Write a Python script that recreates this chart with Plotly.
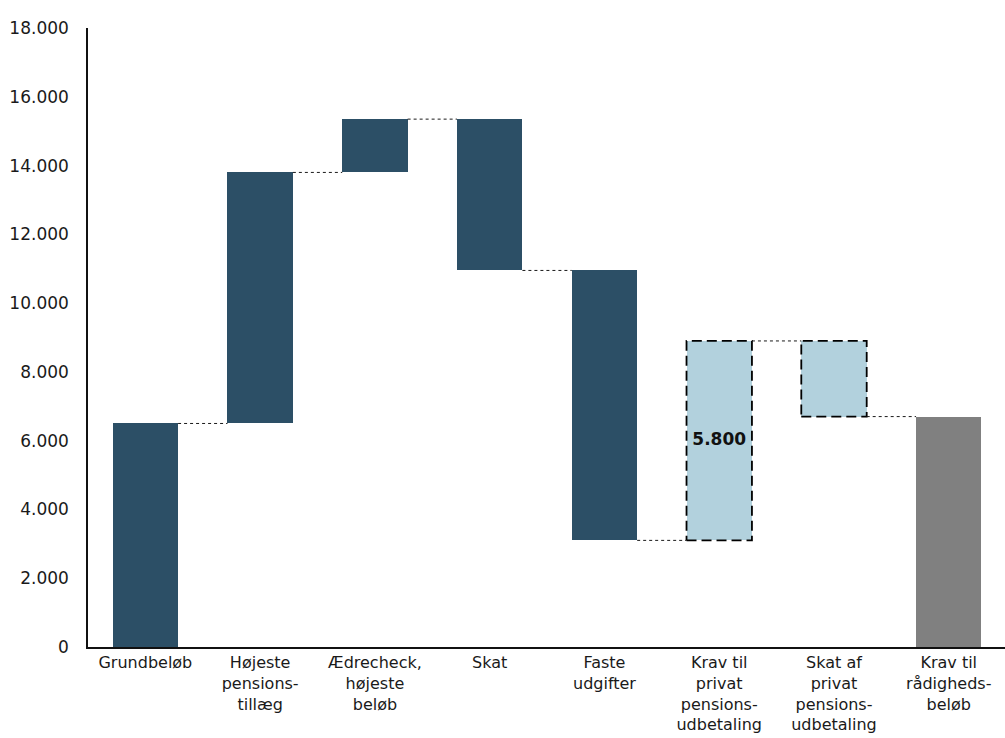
import plotly.graph_objects as go

# Monthly budget steps (DKK)
categories = [
    "Grundbeløb",
    "Højeste<br>pensions-<br>tillæg",
    "Ædrecheck,<br>højeste<br>beløb",
    "Skat",
    "Faste<br>udgifter",
    "Krav til<br>privat<br>pensions-<br>udbetaling",
    "Skat af<br>privat<br>pensions-<br>udbetaling",
    "Krav til<br>rådigheds-<br>beløb",
]
deltas = [6500, 7300, 1550, -4400, -7850, 5800, -2200, 6700]
kinds = ["step", "step", "step", "step", "step", "pension", "pension", "total"]
y_ticks = [0, 2000, 4000, 6000, 8000, 10000, 12000, 14000, 16000, 18000]

DARK = "#2C4F66"
LIGHT = "#B2D1DD"
GREY = "#808080"
FONT = "DejaVu Sans"

x = list(range(len(categories)))
bar_w = 0.57

# running levels: base and top of each floating bar
bases, tops, levels = [], [], []
level = 0
for d, k in zip(deltas, kinds):
    if k == "total":
        bases.append(0)
        tops.append(d)
        level = d
    else:
        lo, hi = sorted([level, level + d])
        bases.append(lo)
        tops.append(hi)
        level += d
    levels.append(level)

colors = [DARK if k == "step" else LIGHT if k == "pension" else GREY for k in kinds]

fig = go.Figure()
fig.add_trace(go.Bar(
    x=x,
    y=[t - b for t, b in zip(tops, bases)],
    base=bases,
    width=bar_w,
    marker=dict(color=colors, line=dict(width=0)),
    hoverinfo="skip",
))

# dashed outlines of the private pension bars
for i, k in enumerate(kinds):
    if k == "pension":
        x0, x1 = i - bar_w / 2, i + bar_w / 2
        fig.add_trace(go.Scatter(
            x=[x0, x1, x1, x0, x0],
            y=[bases[i], bases[i], tops[i], tops[i], bases[i]],
            mode="lines",
            line=dict(color="#000000", width=1.8, dash="10px,5px"),
            hoverinfo="skip",
        ))

# dotted connectors between consecutive bars
for i in range(len(categories) - 1):
    fig.add_trace(go.Scatter(
        x=[i + bar_w / 2, i + 1 - bar_w / 2],
        y=[levels[i], levels[i]],
        mode="lines",
        line=dict(color="#1a1a1a", width=1, dash="dot"),
        hoverinfo="skip",
    ))

# value label on the pension requirement bar
pi = 5
fig.add_trace(go.Scatter(
    x=[pi],
    y=[(bases[pi] + tops[pi]) / 2],
    mode="text",
    text=[f"{deltas[pi]:,}".replace(",", ".")],
    textfont=dict(family=FONT, size=17, color="#111111", weight="bold"),
    hoverinfo="skip",
))

fig.update_layout(
    width=1005,
    height=738,
    margin=dict(l=88, r=0, t=28, b=91),
    plot_bgcolor="white",
    paper_bgcolor="white",
    showlegend=False,
    separators=",.",
    font=dict(family=FONT, size=17, color="#1a1a1a"),
    bargap=0,
)
fig.update_xaxes(
    range=[-0.5, 7.49],
    tickmode="array",
    tickvals=x,
    ticktext=categories,
    showline=True,
    linecolor="#111111",
    linewidth=1.5,
    showgrid=False,
    zeroline=False,
    ticks="",
    tickfont=dict(family=FONT, size=16),
)
fig.update_yaxes(
    range=[0, 18000],
    tickmode="array",
    tickvals=y_ticks,
    tickformat=",.0f",
    showline=True,
    linecolor="#111111",
    linewidth=1.5,
    showgrid=False,
    zeroline=False,
    ticks="",
    ticklabelstandoff=14,
    tickfont=dict(family=FONT, size=17),
)

fig.write_html("out.html")
